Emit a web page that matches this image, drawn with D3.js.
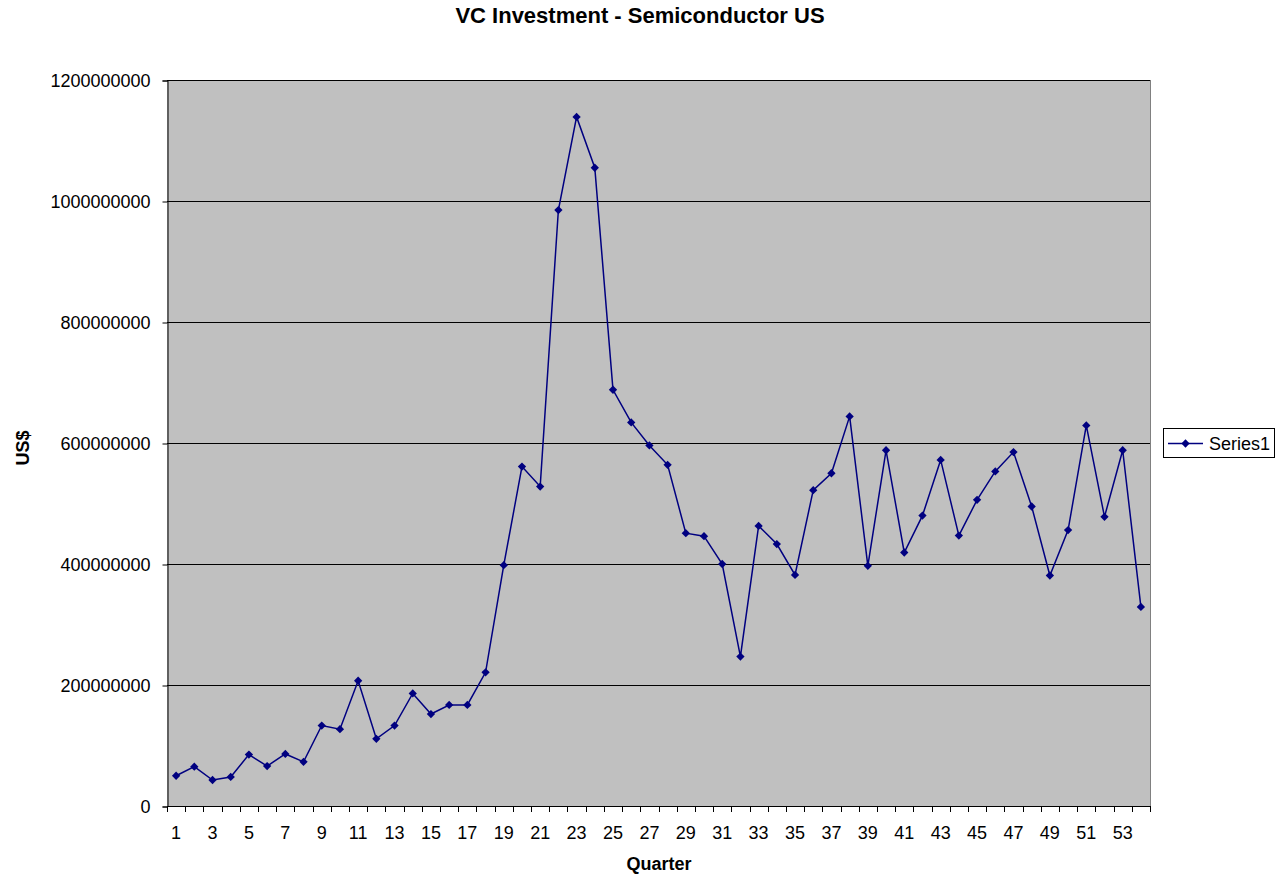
<!DOCTYPE html>
<html><head><meta charset="utf-8">
<script src="https://cdn.jsdelivr.net/npm/d3@7"></script>
<style>
html,body{margin:0;padding:0;background:#fff;}
svg{display:block;font-family:Arial,"Liberation Sans",sans-serif;}
</style></head>
<body><svg id="c" width="1276" height="876"></svg>
<script>
const quarters = d3.range(1, 55);
const values = [
  50e6, 65e6, 43e6, 48e6, 85e6, 66e6, 86e6, 73e6, 133e6, 127e6,
  207e6, 111e6, 133e6, 186e6, 152e6, 167e6, 167e6, 221e6, 398e6, 561e6,
  528e6, 985e6, 1139e6, 1055e6, 688e6, 634e6, 596e6, 564e6, 451e6, 446e6,
  400e6, 247e6, 463e6, 433e6, 382e6, 522e6, 550e6, 644e6, 397e6, 588e6,
  419e6, 480e6, 572e6, 447e6, 506e6, 553e6, 585e6, 495e6, 381e6, 456e6,
  629e6, 478e6, 588e6, 329e6
];
const yTicks = [0, 200e6, 400e6, 600e6, 800e6, 1000e6, 1200e6];
const title = "VC Investment - Semiconductor US";
const xTitle = "Quarter";
const yTitle = "US$";
const seriesName = "Series1";

const svg = d3.select("#c");
const L = 167, R = 1150, T = 80, B = 806;
const x = d3.scaleBand().domain(quarters).range([L, R]).padding(0);
const y = d3.scaleLinear().domain([0, 1200e6]).range([B, T]);
const navy = "#000080";

svg.append("rect").attr("x", L).attr("y", T).attr("width", R - L).attr("height", B - T)
  .attr("fill", "#c0c0c0");

// gridlines
svg.append("g").selectAll("line").data(yTicks.filter(d => d > 0)).join("line")
  .attr("x1", L).attr("x2", R).attr("y1", d => Math.round(y(d)) + 0.5).attr("y2", d => Math.round(y(d)) + 0.5)
  .attr("stroke", "#000").attr("stroke-width", 1);

// right border
svg.append("line").attr("x1", R + 0.5).attr("x2", R + 0.5).attr("y1", T).attr("y2", B)
  .attr("stroke", "#808080");

// y axis
const yAxis = d3.axisLeft(y).tickValues(yTicks).tickFormat(d3.format("d")).tickSize(5).tickPadding(12);
const gy = svg.append("g").attr("transform", `translate(${L + 0.5},0.5)`).call(yAxis);
gy.select(".domain").attr("stroke", "#000");
gy.selectAll("line").attr("stroke", "#000");
gy.selectAll("text").attr("font-size", 18).attr("fill", "#000").attr("font-family", "Arial, 'Liberation Sans', sans-serif");

// x axis: ticks at category boundaries
const gx = svg.append("g");
gx.append("line").attr("x1", L).attr("x2", R + 1).attr("y1", B + 0.5).attr("y2", B + 0.5).attr("stroke", "#000");
const bounds = quarters.map(q => x(q)).concat([x(54) + x.bandwidth()]);
gx.selectAll("line.t").data(bounds).join("line").attr("class", "t")
  .attr("x1", d => Math.round(d) + 0.5).attr("x2", d => Math.round(d) + 0.5)
  .attr("y1", B).attr("y2", B + 6).attr("stroke", "#000");
gx.selectAll("text").data(quarters.filter(q => q % 2 === 1)).join("text")
  .attr("x", d => x(d) + x.bandwidth() / 2).attr("y", 839)
  .attr("text-anchor", "middle").attr("font-size", 18).text(d => d);

// line
const line = d3.line().x((d, i) => x(quarters[i]) + x.bandwidth() / 2).y(d => y(d));
svg.append("path").datum(values).attr("d", line).attr("fill", "none")
  .attr("stroke", navy).attr("stroke-width", 1.5);
const diamond = d3.symbol().type(d3.symbolDiamond2).size(44);
svg.append("g").selectAll("path").data(values).join("path")
  .attr("transform", (d, i) => `translate(${x(quarters[i]) + x.bandwidth() / 2},${y(d)})`)
  .attr("d", diamond).attr("fill", navy);

// titles
svg.append("text").attr("x", 640).attr("y", 23).attr("text-anchor", "middle")
  .attr("font-size", 22).attr("font-weight", "bold").text(title);
svg.append("text").attr("x", 659).attr("y", 870).attr("text-anchor", "middle")
  .attr("font-size", 18).attr("font-weight", "bold").text(xTitle);
svg.append("text").attr("transform", "translate(29,448) rotate(-90)").attr("text-anchor", "middle")
  .attr("font-size", 18).attr("font-weight", "bold").text(yTitle);

// legend
const lg = svg.append("g");
lg.append("rect").attr("x", 1163.5).attr("y", 428.5).attr("width", 111).attr("height", 29)
  .attr("fill", "#fff").attr("stroke", "#000");
lg.append("line").attr("x1", 1168).attr("x2", 1203).attr("y1", 443.5).attr("y2", 443.5)
  .attr("stroke", navy).attr("stroke-width", 1.5);
lg.append("path").attr("transform", "translate(1185.5,443.5)").attr("d", diamond).attr("fill", navy);
lg.append("text").attr("x", 1209).attr("y", 450).attr("font-size", 18).text(seriesName);
</script></body></html>
